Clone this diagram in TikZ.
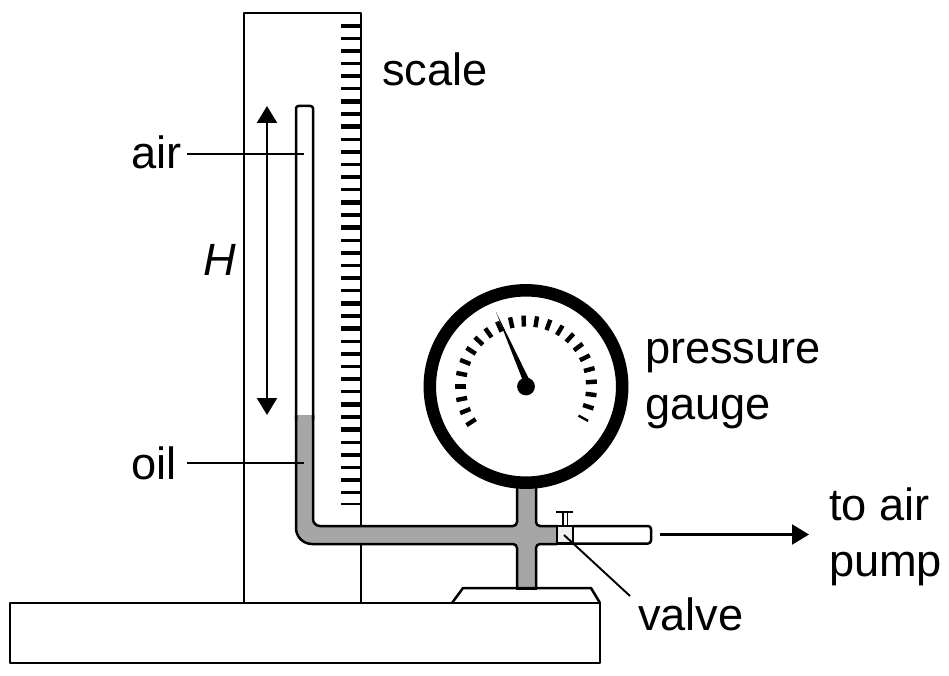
\documentclass[tikz,border=0pt]{standalone}
\usepackage{fontspec}
\setmainfont{Liberation Sans}
\usetikzlibrary{arrows.meta}
\definecolor{oilgray}{HTML}{A6A6A6}
\tikzset{
  x=1pt,y=-1pt,
  outline/.style={draw=black,line width=2.5pt,line join=round},
  leader/.style={draw=black,line width=1.9pt},
  arrowline/.style={draw=black,line width=2.2pt,-{Triangle[length=17pt,width=20pt]}},
  darrowline/.style={draw=black,line width=2.2pt,{Triangle[length=17pt,width=20pt]}-{Triangle[length=17pt,width=20pt]}},
  txt/.style={font=\fontsize{45.2}{50}\selectfont,anchor=base west,inner sep=0pt,outer sep=0pt},
}
\begin{document}
\begin{tikzpicture}
\useasboundingbox (0,0) rectangle (949,676);
% bench and board
\draw[outline] (10,603) rectangle (600,663);
\draw[outline] (244,603) -- (244,13) -- (361,13) -- (361,603);
% scale ticks
\foreach \k in {1,...,38}{
  \pgfmathsetmacro{\yy}{13.1+12.62*\k}
  \pgfmathsetmacro{\ww}{isodd(\k)?4.4:3.3}
  \draw[draw=black,line width=\ww pt] (341,\yy) -- (361,\yy);
}
\draw[draw=black,line width=2.5pt] (341,13) -- (361,13);
\draw[draw=black,line width=2pt] (341,504) -- (361,504);
% oil fill
\fill[oilgray] (296,415) [rounded corners=16pt] -- (296,544) [rounded corners=4pt] -- (517,544) -- (517,588) [sharp corners] -- (536,588) [rounded corners=4pt] -- (536,544) [sharp corners] -- (557,544) -- (557,526) [rounded corners=4pt] -- (536,526) [sharp corners] -- (536,480) -- (517,480) [rounded corners=4pt] -- (517,526) [rounded corners=7pt] -- (313,526) [sharp corners] -- (313,415) -- cycle;
% tube outline
\draw[outline,rounded corners=2.5pt] (313,420) -- (313,106) -- (296,106) -- (296,420);
\draw[outline] (296,415) [rounded corners=16pt] -- (296,544) [rounded corners=4pt] -- (517,544) [sharp corners] -- (517,588);
\draw[outline] (313,415) [rounded corners=7pt] -- (313,526) [rounded corners=4pt] -- (517,526) [sharp corners] -- (517,480);
\draw[outline] (536,480) [rounded corners=4pt] -- (536,526) [sharp corners] -- (557,526);
\draw[outline] (536,588) [rounded corners=4pt] -- (536,544) [sharp corners] -- (557,544);
% stand
\draw[outline] (452,603) -- (463,588) -- (591,588) -- (600,603);
\draw[draw=black,line width=3pt] (516,588) -- (537,588);
% valve and right tube
\draw[outline,fill=white] (573,526) [rounded corners=3pt] -- (651,526) -- (651,543.5) [sharp corners] -- (573,543.5);
\draw[outline,fill=black!6] (557,526) rectangle (573,543.5);
\draw[draw=black,line width=1.6pt] (563,526) -- (563,511.5) (567.5,526) -- (567.5,511.5);
\draw[draw=black,line width=2pt] (556,511.5) -- (573,511.5);
% gauge
\draw[draw=black,line width=12.5pt,fill=white] (526,386.5) circle[radius=96.2];
\foreach \k in {-11,...,11}{
  \pgfmathsetmacro{\aa}{92+11*\k}
  \pgfmathsetmacro{\xa}{526+60*cos(\aa)}
  \pgfmathsetmacro{\ya}{386.5-60*sin(\aa)}
  \pgfmathsetmacro{\xb}{526+71*cos(\aa)}
  \pgfmathsetmacro{\yb}{386.5-71*sin(\aa)}
  \pgfmathsetmacro{\ww}{\k==-11?2.4:4.4}
  \draw[draw=black,line width=\ww pt] (\xa,\ya) -- (\xb,\yb);
}
\fill[black] (496,312) -- (523,381) -- (529,379) -- cycle;
\fill[black] (526,386.5) circle[radius=8.9];
% labels
\node[txt] (scale) at (382,86) {scale};
\node[txt] (air) at (131,169) {air};
\node[txt] (oil) at (131,479) {oil};
\node[txt,font=\fontsize{45.2}{50}\selectfont\itshape] (H) at (203,275) {H};
\node[txt] (pressure) at (645,363) {pressure};
\node[txt] (gauge) at (645,419) {gauge};
\node[txt] (toair) at (829,520) {to air};
\node[txt] (pump) at (829,576) {pump};
\node[txt] (valve) at (638,630) {valve};
% connectors
\coordinate (airend) at (304,154);
\coordinate (oilend) at (304,463);
\coordinate (airstart) at (187,154);
\coordinate (oilstart) at (187,463);
\draw[leader] (airstart) -- (airend);
\draw[leader] (oilstart) -- (oilend);
\coordinate (Htop) at (267,106);
\coordinate (Hbot) at (267,415);
\draw[darrowline] (Htop) -- (Hbot);
\coordinate (pumpa) at (660,534.5);
\coordinate (pumpb) at (809,534.5);
\draw[arrowline] (pumpa) -- (pumpb);
\coordinate (valvea) at (564,535);
\coordinate (valveb) at (630,596);
\draw[leader] (valvea) -- (valveb);
\end{tikzpicture}
\end{document}
